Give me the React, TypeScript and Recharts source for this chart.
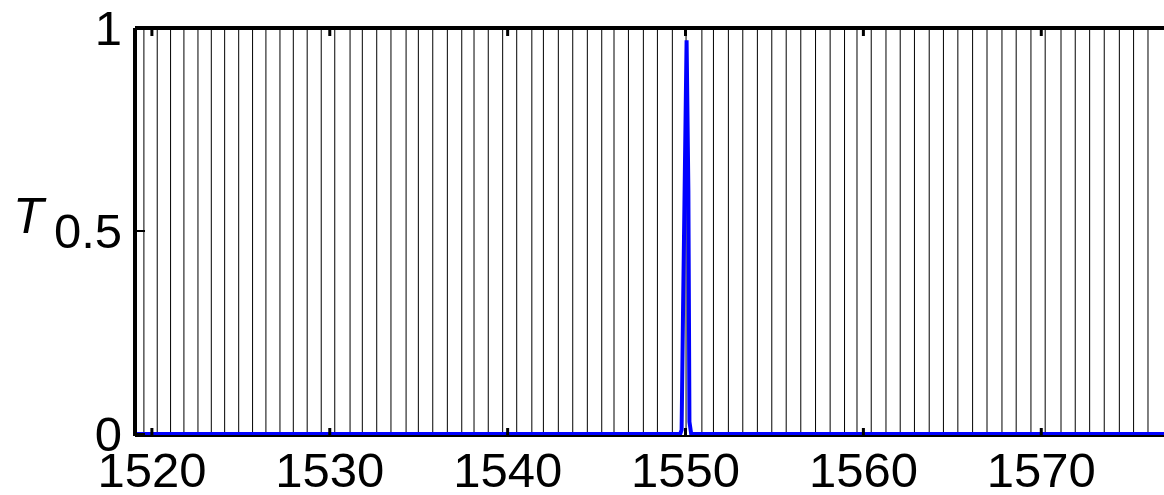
import { LineChart, Line, XAxis, YAxis, ReferenceLine, Label } from 'recharts'

// comb transmission peaks (nm)
const combPeaks = [
  1519.55, 1520.3, 1521.05, 1521.8, 1522.59, 1523.34, 1524.09, 1524.88, 1525.66, 1526.41,
  1527.2, 1527.95, 1528.73, 1529.52, 1530.28, 1531.14, 1531.83, 1532.64, 1533.44, 1534.29,
  1534.98, 1535.79, 1536.61, 1537.42, 1538.11, 1538.91, 1539.72, 1540.51, 1541.36, 1542.01,
  1542.85, 1543.66, 1544.48, 1545.29, 1545.98, 1546.79, 1547.63, 1548.42, 1549.26, 1550.03,
  1550.92, 1551.57, 1552.41, 1553.22, 1554.04, 1554.85, 1555.66, 1556.48, 1557.31, 1558.13,
  1558.94, 1559.64, 1560.44, 1561.27, 1562.07, 1562.87, 1563.7, 1564.5, 1565.31, 1566.14,
  1566.95, 1567.79, 1568.59, 1569.42, 1570.22, 1571.11, 1571.91, 1572.72, 1573.54, 1574.39,
  1575.19, 1576.0,
]

// filter transmission (blue)
const filterWavelength = [1519.05, 1549.7, 1549.78, 1549.86, 1550.06, 1550.16, 1550.22, 1550.32, 1576.9]
const filterT = [0, 0, 0.01, 0.3, 0.97, 0.6, 0.03, 0, 0]

const xTicks = [1520, 1530, 1540, 1550, 1560, 1570]
const yTicks = [0, 0.5, 1]

const font = 'Liberation Sans, Arial, sans-serif'
const xDomain = [1519.05, 1576.9]

export default function App() {
  const filterData = filterWavelength.map((w, i) => ({ w, t: filterT[i] }))

  return (
    <div style={{ position: 'absolute', left: 0, top: 0, background: '#fff' }}>
      <LineChart width={1164} height={495} margin={{ top: 26, right: 0, bottom: 0, left: 0 }}>
        <XAxis
          dataKey="w"
          type="number"
          domain={xDomain}
          allowDataOverflow
          ticks={xTicks}
          interval={0}
          height={59}
          tickSize={-8}
          tickMargin={24}
          tick={{ fontSize: 49, fill: '#000', fontFamily: font }}
          tickLine={{ stroke: '#000', strokeWidth: 3 }}
          axisLine={{ stroke: '#000', strokeWidth: 2 }}
        />
        <XAxis
          xAxisId="top"
          dataKey="w"
          orientation="top"
          type="number"
          domain={xDomain}
          allowDataOverflow
          ticks={xTicks}
          interval={0}
          height={2}
          tickSize={-8}
          tickFormatter={() => ''}
          tickLine={{ stroke: '#000', strokeWidth: 3 }}
          axisLine={{ stroke: '#000', strokeWidth: 4 }}
        />
        <YAxis
          type="number"
          domain={[-0.005, 1]}
          allowDataOverflow
          ticks={yTicks}
          interval={0}
          width={135}
          tickSize={-10}
          tickMargin={23}
          tick={{ fontSize: 49, fill: '#000', fontFamily: font }}
          tickLine={{ stroke: '#000', strokeWidth: 2 }}
          axisLine={{ stroke: '#000', strokeWidth: 4 }}
        >
          <Label
            value="T"
            position="insideLeft"
            offset={13}
            dy={-17}
            style={{ fontSize: 50, fontStyle: 'italic', fill: '#000', fontFamily: font }}
          />
        </YAxis>
        <YAxis
          yAxisId="right"
          orientation="right"
          type="number"
          domain={[-0.005, 1]}
          ticks={[0.5]}
          width={0}
          tickSize={-3}
          tickFormatter={() => ''}
          tickLine={{ stroke: '#000', strokeWidth: 2 }}
          axisLine={false}
        />
        {combPeaks.map((p) => (
          <ReferenceLine key={p} x={p} stroke="#000" strokeWidth={1} />
        ))}
        <ReferenceLine y={1} stroke="#000" strokeWidth={4} />
        {/* invisible copy so the top axis gets drawn */}
        <Line
          xAxisId="top"
          data={filterData}
          dataKey="t"
          stroke="none"
          dot={false}
          activeDot={false}
          isAnimationActive={false}
        />
        <Line
          data={filterData}
          dataKey="t"
          type="linear"
          stroke="#0000ff"
          strokeWidth={4}
          dot={false}
          activeDot={false}
          isAnimationActive={false}
        />
      </LineChart>
    </div>
  )
}
